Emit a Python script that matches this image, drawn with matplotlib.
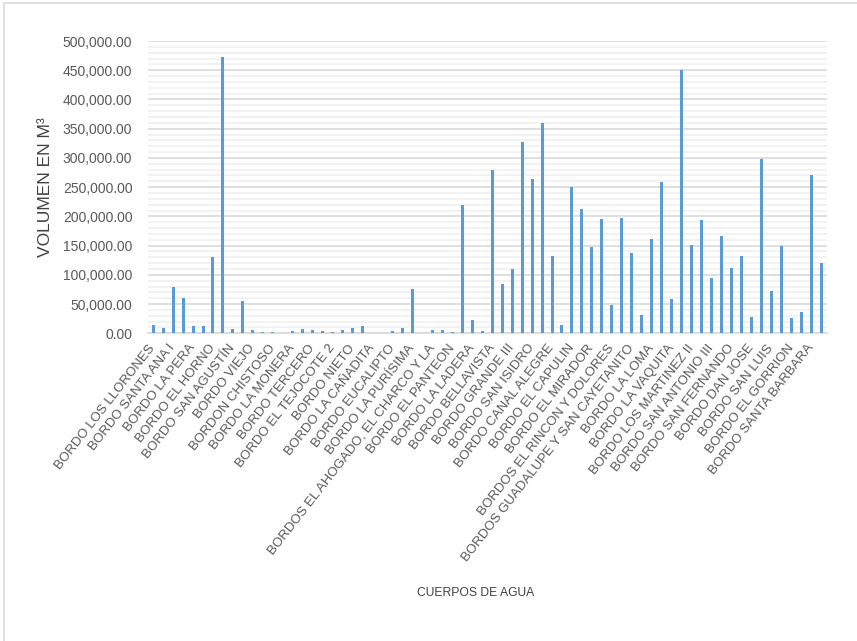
import numpy as np
import matplotlib
matplotlib.use("Agg")
import matplotlib.pyplot as plt
from matplotlib import font_manager
from matplotlib.ticker import MultipleLocator, FuncFormatter
from matplotlib.patches import Rectangle

# ============================================================
# Data
# ============================================================

# only every other body of water carries a label on the axis
LABELS = [
    "BORDO LOS LLORONES", "BORDO SANTA ANA I", "BORDO LA PERA",
    "BORDO EL HORNO", "BORDO SAN AGUSTÍN", "BORDO VIEJO",
    "BORDON CHISTOSO", "BORDO LA MONERA", "BORDO TERCERO",
    "BORDO EL TEJOCOTE 2", "BORDO NIETO", "BORDO LA CAÑADITA",
    "BORDO EUCALIPTO", "BORDO LA PURÍSIMA",
    "BORDOS EL AHOGADO, EL CHARCO Y LA", "BORDO EL PANTEON",
    "BORDO LA LADERA", "BORDO BELLAVISTA", "BORDO GRANDE III",
    "BORDO SAN ISIDRO", "BORDO CANAL ALEGRE", "BORDO EL CAPULIN",
    "BORDO EL MIRADOR", "BORDOS EL RINCON Y DOLORES",
    "BORDOS GUADALUPE Y SAN CAYETANITO", "BORDO LA LOMA",
    "BORDO LA VAQUITA", "BORDO LOS MARTINEZ II", "BORDO SAN ANTONIO III",
    "BORDO SAN FERNANDO", "BORDO DAN JOSE", "BORDO SAN LUIS",
    "BORDO EL GORRION", "BORDO SANTA BARBARA",
]

VOLUMES = [
    13700, 8600, 78900, 60600, 12600, 12600, 129700, 472000,
    6900, 55400, 5700, 2300, 2300, 500, 4000, 7400,
    5700, 4600, 2300, 5700, 9700, 12600, 300, 300,
    4000, 8600, 75400, 300, 5700, 5700, 2300, 220000,
    22900, 3400, 280000, 84000, 110300, 327400, 264600, 359400,
    132000, 14300, 249700, 212600, 148000, 195400, 48000, 197700,
    137100, 30900, 160600, 259400, 58900, 449700, 150300, 194300,
    94900, 166900, 111400, 132600, 28000, 298900, 72600, 149700,
    25700, 36600, 270900, 120000,
]

Y_MAX = 500000

# ============================================================
# Fonts
# ============================================================

installed = {f.name for f in font_manager.fontManager.ttflist}
HAS_NARROW = "Liberation Sans Narrow" in installed
NARROW = "Liberation Sans Narrow" if HAS_NARROW else "Liberation Sans"

plt.rcParams["font.family"] = ["Liberation Sans", "DejaVu Sans"]

TEXT_GRAY = "#595959"
BAR_BLUE = "#5B9BD5"

# ============================================================
# Figure
# ============================================================

fig = plt.figure(figsize=(8.57, 6.41), dpi=100)
ax = fig.add_axes([0.1723, 0.480, 0.7924, 0.456])

x = np.arange(len(VOLUMES))
ax.bar(x, VOLUMES, width=0.3, color=BAR_BLUE, zorder=3)

ax.set_xlim(-0.55, len(VOLUMES) - 0.45)
ax.set_ylim(0, Y_MAX)

# gridlines
ax.yaxis.set_major_locator(MultipleLocator(50000))
ax.yaxis.set_minor_locator(MultipleLocator(10000))
ax.grid(axis="y", which="major", color="#D9D9D9", linewidth=1.2, zorder=1)
ax.grid(axis="y", which="minor", color="#F0F0F0", linewidth=1.2, zorder=0)

ax.yaxis.set_major_formatter(FuncFormatter(lambda v, _: f"{v:,.2f}"))
ax.tick_params(axis="y", which="both", length=0, pad=11)
for lab in ax.get_yticklabels():
    lab.set_fontfamily(NARROW)
    lab.set_fontsize(12 if HAS_NARROW else 10)
    lab.set_color(TEXT_GRAY)

ax.set_xticks(x[::2])
ax.set_xticklabels(
    LABELS,
    rotation=52,
    ha="right",
    va="center",
    rotation_mode="anchor",
    fontsize=9.5,
    color=TEXT_GRAY,
)
ax.tick_params(axis="x", length=0, pad=9)

for side in ["top", "right", "left"]:
    ax.spines[side].set_visible(False)
ax.spines["bottom"].set_color("#D9D9D9")
ax.spines["bottom"].set_linewidth(1.2)

ax.set_ylabel("VOLUMEN EN M³", fontsize=12.5, color="#404040")
ax.yaxis.set_label_coords(-0.139, 0.5)

fig.text(
    0.5555, 0.075, "CUERPOS DE AGUA",
    ha="center", va="center",
    fontfamily=NARROW, fontsize=10 if HAS_NARROW else 8.7,
    color="#404040",
)

# light chart-area border (right and bottom fall outside the picture)
fig.patches.append(
    Rectangle((4 / 857, -0.1), 1.2, (641 - 3) / 641 + 0.1,
              transform=fig.transFigure, fill=False,
              edgecolor="#D9D9D9", linewidth=1.2)
)

fig.savefig("out.png", dpi=100)
